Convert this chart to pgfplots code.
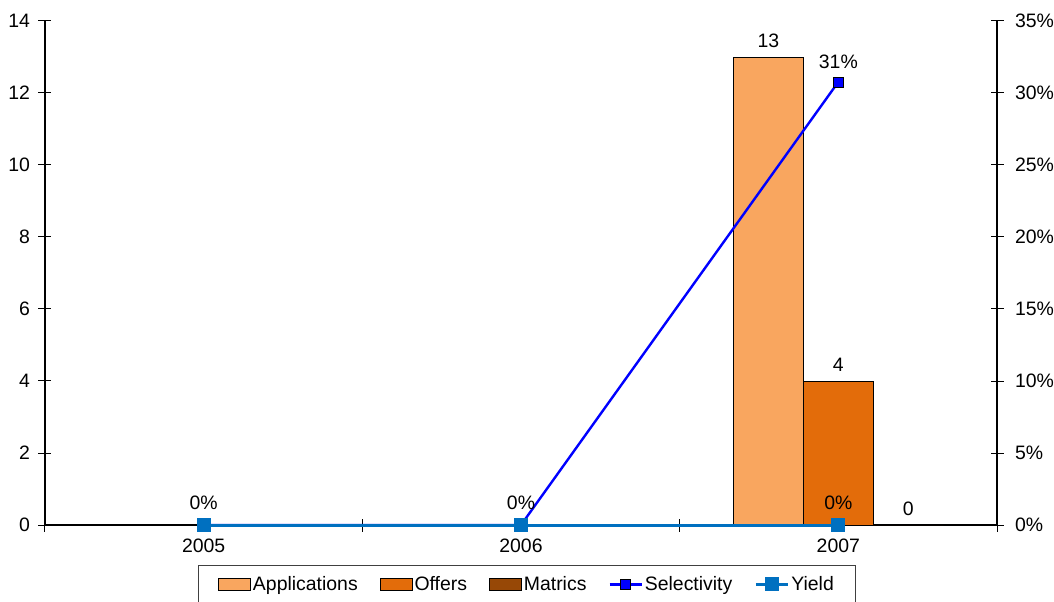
\documentclass[border=0pt]{standalone}
\usepackage{pgfplots}
\pgfplotsset{compat=1.18}
\usepackage{fontspec}
\setmainfont{Liberation Sans}

\definecolor{appl}{HTML}{F9A65F}
\definecolor{offr}{HTML}{E36C0A}
\definecolor{matr}{HTML}{974806}
\definecolor{yld}{HTML}{0070C0}

\newcommand{\chartfont}{\fontsize{19.5}{22}\selectfont}

\pgfplotsset{
  chartbase/.style={
    scale only axis,
    width=952bp, height=504bp,
    xmin=-0.5, xmax=2.5,
    clip=false,
    font=\chartfont,
    /pgf/number format/assume math mode=true,
    major tick length=13bp,
    minor tick length=13bp,
    tick style={black, line width=1bp},
    axis line style={black, line width=1.2bp, -},
  },
  barimg/.style={legend image code/.code={\draw[##1] (0bp,-6bp) rectangle (32bp,6bp);}},
  lineimg/.style={legend image code/.code={\draw[##1,mark repeat=2,mark phase=2] plot coordinates {(0bp,0bp) (16bp,0bp) (32bp,0bp)};}},
}

\begin{document}
\begin{tikzpicture}
% bars on the left axis
\begin{axis}[
  chartbase, name=ax,
  ybar=0pt, bar width=70bp,
  ymin=0, ymax=14,
  ytick={0,2,...,14},
  axis y line*=left, axis x line*=bottom,
  tick align=center,
  xtick={0,1,2}, xticklabels={2005,2006,2007},
  major x tick style={draw=none},
  minor xtick={-0.5,0.5,1.5,2.5},
  xticklabel style={yshift=-3.5bp},
  yticklabel style={xshift=-5bp},
  nodes near coords,
  nodes near coords style={font=\chartfont, black, yshift=5.5bp},
]
\addplot[fill=appl, draw=black, line width=0.8bp] coordinates {(2,13)};
\addplot[fill=offr, draw=black, line width=0.8bp] coordinates {(2,4)};
\addplot[fill=matr, draw=black, line width=0.8bp] coordinates {(2,0)};
\end{axis}

% rates on the right axis
\begin{axis}[
  chartbase,
  ymin=0, ymax=35,
  ytick={0,5,...,35},
  yticklabels={0\%,5\%,10\%,15\%,20\%,25\%,30\%,35\%},
  axis y line*=right, axis x line=none,
  tick align=center,
  yticklabel style={xshift=8bp},
  nodes near coords,
  point meta=explicit symbolic,
  nodes near coords style={font=\chartfont, black, yshift=10bp},
  legend columns=5,
  legend style={
    at={(0.5063,-0.0794)}, anchor=north,
    draw=black!75, line width=1bp,
    font=\chartfont,
    inner xsep=20bp, inner ysep=9bp,
    nodes={inner xsep=2bp},
    /tikz/every even column/.append style={column sep=20bp},
  },
]
\addlegendimage{barimg, fill=appl, draw=black, line width=0.8bp}
\addlegendentry{Applications}
\addlegendimage{barimg, fill=offr, draw=black, line width=0.8bp}
\addlegendentry{Offers}
\addlegendimage{barimg, fill=matr, draw=black, line width=0.8bp}
\addlegendentry{Matrics}
\addplot[lineimg, blue, line width=2.4bp, mark=square*, mark size=5bp,
  mark options={fill=blue, draw=black, line width=0.8bp}]
  coordinates {(0,0) [] (1,0) [] (2,30.77) [31\%]};
\addlegendentry{Selectivity}
\addplot[lineimg, yld, line width=3bp, mark=square*, mark size=5.5bp,
  mark options={fill=yld, draw=none}]
  coordinates {(0,0) [0\%] (1,0) [0\%] (2,0) [0\%]};
\addlegendentry{Yield}
\end{axis}

\pgfresetboundingbox
\path ([shift={(-45bp,-77bp)}]ax.south west) rectangle ([shift={(1009bp,525bp)}]ax.south west);
\end{tikzpicture}
\end{document}
